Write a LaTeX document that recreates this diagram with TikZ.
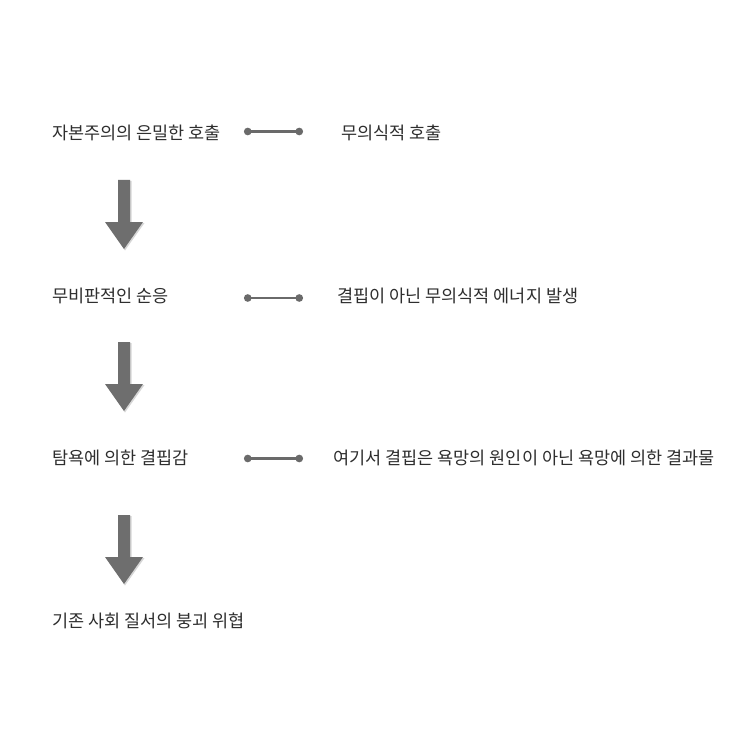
\documentclass[tikz,border=0pt]{standalone}
\usepackage{fontspec}
\setmainfont{Noto Sans CJK KR}
\usetikzlibrary{arrows.meta}
\definecolor{txt}{HTML}{2E2E2E}
\definecolor{conn}{HTML}{6A6A6A}
\definecolor{arr}{HTML}{6E6E6E}
\definecolor{shd}{HTML}{D6D6D6}
\tikzset{
  lbl/.style={anchor=west, inner sep=0pt, text=txt, font=\fontsize{17.5}{20}\selectfont},
  link/.style={draw=conn, line width=2.3pt, {Circle[length=7.5pt]}-{Circle[length=7.5pt]}},
  bigarrow/.style={fill=arr},
  bigshadow/.style={fill=shd}
}
\begin{document}
\begin{tikzpicture}[x=1pt,y=-1pt]
\useasboundingbox[fill=white] (0,0) rectangle (743,743);
% left column
\node[lbl] (l1) at (52,132.5) {자본주의의 은밀한 호출};
\node[lbl] (l2) at (52,295.5) {무비판적인 순응};
\node[lbl] (l3) at (52,457.5) {탐욕에 의한 결핍감};
\node[lbl] (l4) at (52,621) {기존 사회 질서의 붕괴 위협};
% right column
\node[lbl] (r1) at (341,132.5) {무의식적 호출};
\node[lbl] (r2) at (337,295.5) {결핍이 아닌 무의식적 에너지 발생};
\node[lbl] (r3) at (333,457.5) {여기서 결핍은 욕망의 원인이 아닌 욕망에 의한 결과물};
% connectors
\coordinate (c1a) at (244,131.5); \coordinate (c1b) at (303,131.5);
\coordinate (c2a) at (244,298); \coordinate (c2b) at (303,298);
\coordinate (c3a) at (244,458.5); \coordinate (c3b) at (303,458.5);
\draw[link] (c1a) -- (c1b);
\draw[link] (c2a) -- (c2b);
\draw[link] (c3a) -- (c3b);
% block arrows
\foreach \t in {180,342,515}{
  \begin{scope}[shift={(0,\t)}]
    \path[bigshadow] (119.5,1) -- (131.5,1) -- (131.5,43) -- (144.5,43) -- (125,70.5) -- (106,43) -- (119.5,43) -- cycle;
    \path[bigarrow] (118,0) -- (130,0) -- (130,42) -- (143,42) -- (124,69) -- (105,42) -- (118,42) -- cycle;
  \end{scope}
}
\end{tikzpicture}
\end{document}
